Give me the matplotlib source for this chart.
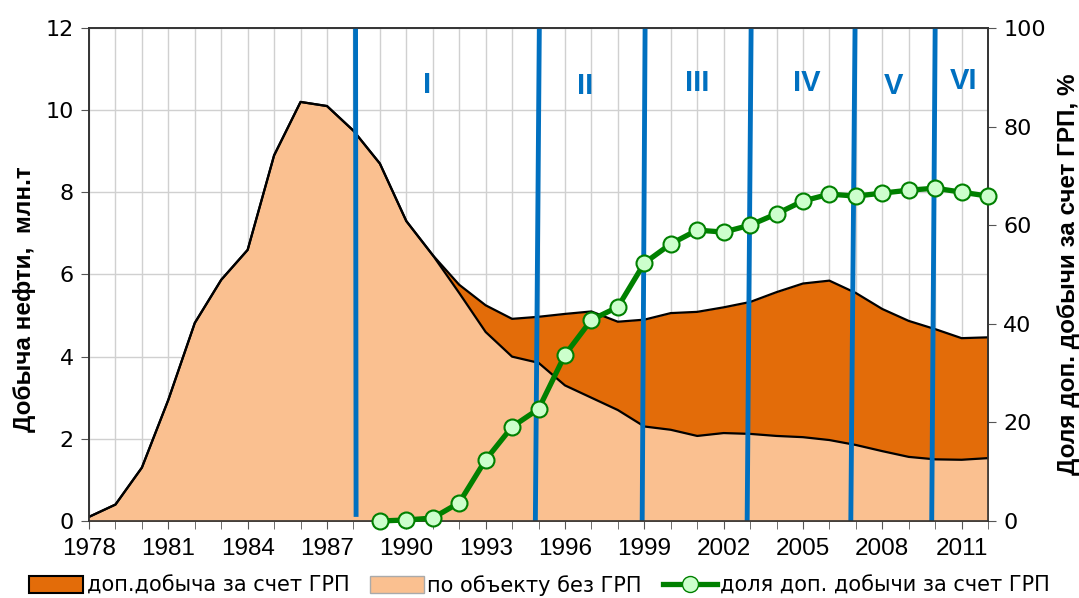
import matplotlib
matplotlib.use("Agg")
import matplotlib.pyplot as plt
from matplotlib.patches import Patch
from matplotlib.lines import Line2D

plt.rcParams['font.family'] = ['Liberation Sans', 'DejaVu Sans']

years = list(range(1978, 2013))
total = [0.1, 0.4, 1.3, 2.95, 4.82, 5.87, 6.6, 8.9, 10.2, 10.1, 9.5, 8.7, 7.3, 6.47,
         5.75, 5.25, 4.92, 4.97, 5.04, 5.1, 4.85, 4.9, 5.06, 5.09, 5.2, 5.33, 5.57,
         5.78, 5.85, 5.55, 5.16, 4.87, 4.67, 4.45, 4.47]
base = [0.1, 0.4, 1.3, 2.95, 4.82, 5.87, 6.6, 8.9, 10.2, 10.1, 9.5, 8.7, 7.3, 6.47,
        5.55, 4.6, 4.0, 3.85, 3.3, 3.0, 2.7, 2.3, 2.22, 2.07, 2.14, 2.12, 2.07,
        2.04, 1.97, 1.85, 1.7, 1.56, 1.5, 1.49, 1.53]
share_years = list(range(1989, 2013))
share = [0.0, 0.2, 0.6, 3.7, 12.4, 19.1, 22.7, 33.7, 40.8, 43.4, 52.3, 56.2, 59.0,
         58.6, 60.0, 62.3, 64.9, 66.3, 65.9, 66.5, 67.1, 67.5, 66.7, 65.9]

period_bottom = [1988.1, 1994.88, 1998.92, 2002.89, 2006.81, 2009.87]
period_top = [1988.08, 1995.03, 1999.03, 2003.04, 2006.97, 2010.0]
period_bottom_y = [0.1, 0, 0, 0, 0, 0]
period_labels = ['I', 'II', 'III', 'IV', 'V', 'VI']
period_label_x = [1990.77, 1996.77, 2001.0, 2005.15, 2008.43, 2011.08]
period_label_y = [10.61, 10.58, 10.66, 10.66, 10.59, 10.71]

dark = '#E36C09'
light = '#FAC090'
blue = '#0070C0'
green = '#008000'

fig = plt.figure(figsize=(10.79, 5.98), dpi=100)
ax = fig.add_axes([0.0825, 0.1288, 0.8332, 0.8244])

ax.fill_between(years, 0, total, color=dark, zorder=2, linewidth=0)
ax.fill_between(years, 0, base, color=light, zorder=3, linewidth=0)
ax.plot(years, total, color='black', lw=1.6, zorder=4)
ax.plot(years, base, color='black', lw=1.6, zorder=4)

ax.set_xlim(1978, 2012)
ax.set_ylim(0, 12)
ax.set_xticks(range(1978, 2013, 3))
ax.set_xticks(range(1978, 2013), minor=True)
ax.set_yticks(range(0, 13, 2))
ax.grid(True, which='both', axis='x', color='#d0d0d0', lw=1, zorder=0)
ax.grid(True, which='major', axis='y', color='#d0d0d0', lw=1, zorder=0)
ax.set_axisbelow(True)
ax.tick_params(axis='both', which='both', direction='out', color='#555555')
ax.tick_params(axis='x', which='both', length=6, pad=6, labelsize=17.5)
ax.tick_params(axis='y', length=6, pad=5)
for lbl in ax.get_yticklabels():
    lbl.set_fontfamily(['DejaVu Sans'])
    lbl.set_fontsize(16)
for sp in ['left', 'bottom', 'top', 'right']:
    ax.spines[sp].set_color('#333333')
    ax.spines[sp].set_linewidth(1.2)
ax.set_ylabel('Добыча нефти,  млн.т', fontsize=17.5, fontweight='bold')
ax.yaxis.set_label_coords(-0.059, 0.45)

for xb, xt, yb in zip(period_bottom, period_top, period_bottom_y):
    ax.plot([xb, xt], [yb, 12], color=blue, lw=3.5, zorder=6, solid_capstyle='butt')
for lx, ly, lab in zip(period_label_x, period_label_y, period_labels):
    ax.text(lx, ly, lab, color=blue, fontsize=21, fontweight='bold', ha='center', va='center', zorder=7)

ax2 = ax.twinx()
ax2.set_ylim(0, 100)
ax2.set_yticks(range(0, 101, 20))
ax2.tick_params(axis='y', direction='out', length=6, pad=5, color='#555555')
for lbl in ax2.get_yticklabels():
    lbl.set_fontfamily(['DejaVu Sans'])
    lbl.set_fontsize(16)
ax2.plot(share_years, share, color=green, lw=3.8, marker='o', ms=11.5,
         markerfacecolor='#CCFFCC', markeredgecolor=green, markeredgewidth=1.5, zorder=8,
         clip_on=False)
ax2.set_ylabel('Доля доп. добычи за счет ГРП, %', fontsize=17.5, fontweight='bold', labelpad=8)
for sp in ['left', 'bottom', 'top', 'right']:
    ax2.spines[sp].set_color('#333333')
    ax2.spines[sp].set_linewidth(1.2)

handles = [Patch(facecolor=dark, edgecolor='black', lw=1.5),
           Patch(facecolor=light, edgecolor='#aaaaaa', lw=1),
           Line2D([0], [0], color=green, lw=3.8, marker='o', ms=11.5,
                  markerfacecolor='#CCFFCC', markeredgecolor=green)]
labels = ['доп.добыча за счет ГРП', 'по объекту без ГРП', 'доля доп. добычи за счет ГРП']
fig.legend(handles, labels, loc='lower center', bbox_to_anchor=(0.5, -0.028), ncol=3,
           frameon=False, prop={'family': ['DejaVu Sans'], 'size': 15},
           handlelength=2.6, handleheight=0.9, handletextpad=0.15, columnspacing=1.0)

fig.savefig('out.png', dpi=100)
